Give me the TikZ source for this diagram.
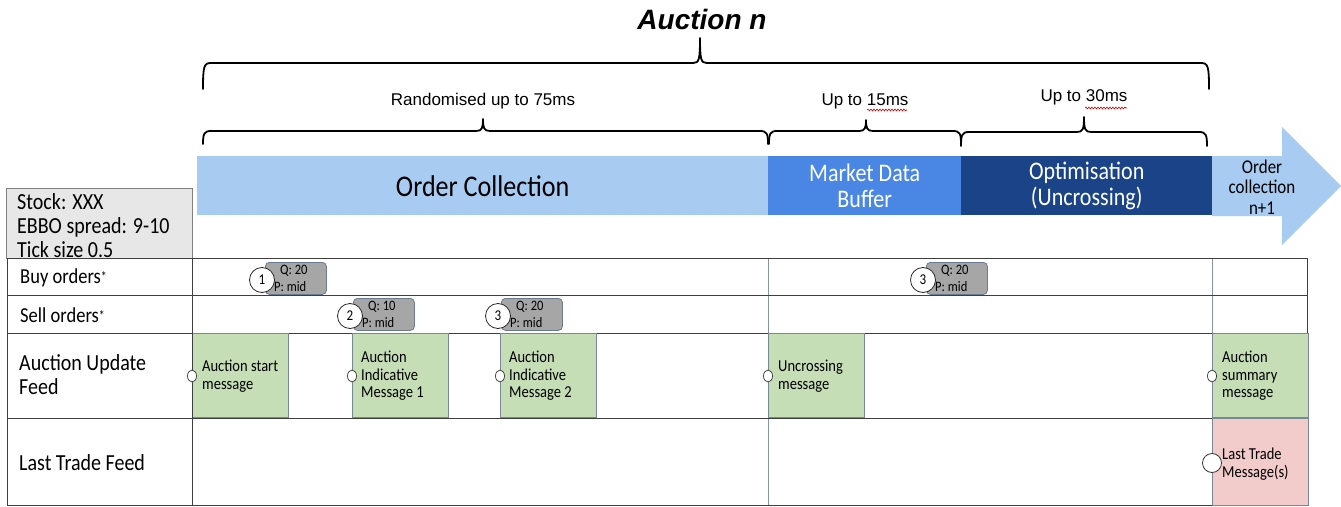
\documentclass[tikz,border=0pt]{standalone}
\usepackage{fontspec}
\setmainfont[FakeStretch=0.87]{Carlito}
\newfontfamily\arialfont{Liberation Sans}
\usetikzlibrary{shapes.geometric,decorations.pathmorphing}
\definecolor{lightblue}{HTML}{A8CBF2}
\definecolor{mdblue}{HTML}{4A86E3}
\definecolor{darkblue}{HTML}{1B4388}
\definecolor{msggreen}{HTML}{C5DEB5}
\definecolor{msgpink}{HTML}{F2CBCB}
\definecolor{tokgray}{HTML}{A6A6A6}
\definecolor{tokedge}{HTML}{6B7B8F}
\definecolor{infogray}{HTML}{E7E7E7}
\definecolor{gridv}{HTML}{8793A6}
\definecolor{gridh}{HTML}{3F3F3F}
\definecolor{boxedge}{HTML}{7A8796}
\tikzset{
  bracepath/.style={line width=1.8pt, black, line join=round, line cap=round},
  bracelabel/.style={font=\arialfont\fontsize{17}{20}\selectfont, inner sep=0},
  phase/.style={anchor=north west, inner sep=0, minimum height=59pt, align=center, font=\fontsize{25.3}{26}\selectfont},
  rowlabel/.style={anchor=west, inner sep=0, align=left, font=\fontsize{23}{24}\selectfont},
  msgbox/.style={anchor=north west, draw=boxedge, line width=0.8pt, fill=msggreen, minimum width=96pt, minimum height=84pt, inner sep=0},
  msgtext/.style={anchor=west, align=left, inner sep=0, font=\fontsize{16.7}{17.5}\selectfont},
  portmark/.style={ellipse, draw=black!80, fill=white, line width=0.7pt, minimum width=9pt, minimum height=12pt, inner sep=0},
  tokbox/.style={anchor=north west, draw=tokedge, line width=0.8pt, fill=tokgray, rounded corners=4pt, minimum width=61pt, minimum height=32pt, inner sep=0},
  toktext/.style={anchor=west, inner sep=0, font=\fontsize{14.4}{15}\selectfont},
  tokcircle/.style={circle, draw=black!85, fill=white, line width=0.8pt, minimum size=25pt, inner sep=0, font=\fontsize{15}{15}\selectfont},
  gridlineh/.style={draw=gridh, line width=1pt},
  gridlinev/.style={draw=gridv, line width=1pt},
  squiggle/.style={draw=red!80!black, line width=0.6pt, decorate, decoration={snake, amplitude=0.9pt, segment length=3pt}}
}
% #1 x1, #2 x2, #3 xm, #4 ytop, #5 yend, #6 ytip
\newcommand\drawbrace[6]{%
  \draw[bracepath] (#1,#5) .. controls (#1,#4+3) and (#1+1,#4) .. (#1+8,#4)
    -- (#3-7,#4) .. controls (#3-1,#4) and (#3,#4-3) .. (#3,#6)
    .. controls (#3,#4-3) and (#3+1,#4) .. (#3+7,#4)
    -- (#2-8,#4) .. controls (#2-1,#4) and (#2,#4+3) .. (#2,#5);}
% #1 name, #2 rx, #3 ry, #4 number, #5 Q
\newcommand\ordtoken[5]{%
  \node[tokbox] (#1) at (#2,#3) {};
  \node[tokcircle] (#1n) at (#2-3,#3+18) {#4};
  \node[toktext] (#1q) at (#2+15,#3+9) {Q: #5};
  \node[toktext] (#1p) at (#2+9,#3+25) {P: mid};}
\begin{document}
\begin{tikzpicture}[x=1pt,y=-1pt]
\useasboundingbox (0,0) rectangle (1341,506);
\fill[white] (0,0) rectangle (1341,506);

% title and braces
\node[font=\arialfont\bfseries\itshape\fontsize{28}{30}\selectfont, inner sep=0] (title) at (702,19) {Auction n};
\drawbrace{203}{1209}{700}{63}{89}{38}
\node[bracelabel] (l75) at (483,101) {Randomised up to 75ms};
\drawbrace{203}{768}{483}{131}{144}{119}
\node[bracelabel] (l15) at (865,101) {Up to 15ms};
\drawbrace{769}{961}{866}{131}{144}{120}
\node[bracelabel] (l30) at (1084,97) {Up to 30ms};
\drawbrace{961}{1207}{1084}{132}{146}{117}
\draw[squiggle] (867,110) -- (907,110);
\draw[squiggle] (1085,108) -- (1127,108);

% phase bar
\node[phase, fill=lightblue, minimum width=571pt, font=\fontsize{30}{30}\selectfont] (oc) at (197,156) {Order Collection};
\node[phase, fill=mdblue, text=white, minimum width=193pt] (mdb) at (768,156) {Market Data\\Buffer};
\node[phase, fill=darkblue, text=white, minimum width=251pt] (opt) at (961,156) {Optimisation\\(Uncrossing)};
\fill[lightblue] (1212,156) -- (1282,156) -- (1282,127) -- (1341,186) -- (1282,245) -- (1282,216) -- (1212,216) -- cycle;
\node[align=center, inner sep=0, font=\fontsize{19.5}{20.5}\selectfont] (next) at (1262,187) {Order\\collection\\n+1};

% info box
\node[anchor=north west, draw=gray, line width=0.8pt, fill=infogray, minimum width=186pt, minimum height=70pt, inner sep=0] (info) at (6,188) {};
\node[rowlabel] (infot) at (17,226) {Stock: XXX\\EBBO spread: 9-10\\Tick size 0.5};

% table grid
\draw[gridlinev] (768,258) -- (768,505);
\draw[gridlinev] (1212,258) -- (1212,505);
\draw[gridlineh] (7,258) -- (1307,258);
\draw[gridlineh] (7,295) -- (1307,295);
\draw[gridlineh] (7,333) -- (1307,333);
\draw[gridlineh] (7,418) -- (1307,418);
\draw[gridlineh] (7,505) -- (1307,505);
\draw[gridlineh] (7,258) -- (7,505);
\draw[gridlineh] (1307,258) -- (1307,505);

% row labels
\node[rowlabel, font=\fontsize{21.3}{22}\selectfont] (buy) at (20,278) {Buy orders\raisebox{2pt}{\fontsize{13.8}{14}\selectfont *}};
\node[rowlabel, font=\fontsize{21.3}{22}\selectfont] (sell) at (20,315) {Sell orders\raisebox{2pt}{\fontsize{13.8}{14}\selectfont *}};
\node[rowlabel] (auf) at (19,375) {Auction Update\\Feed};
\node[rowlabel] (ltf) at (19,463) {Last Trade Feed};

% messages
\node[msgbox] (m1) at (192,333) {};
\node[msgtext] (m1t) at (202,376) {Auction start\\message};
\node[msgbox] (m2) at (352,333) {};
\node[msgtext] (m2t) at (361,376) {Auction\\Indicative\\Message 1};
\node[msgbox] (m3) at (500,333) {};
\node[msgtext] (m3t) at (509,376) {Auction\\Indicative\\Message 2};
\node[msgbox] (m4) at (768,333) {};
\node[msgtext] (m4t) at (778,376) {Uncrossing\\message};
\node[msgbox] (m5) at (1212,333) {};
\node[msgtext] (m5t) at (1222,376) {Auction\\summary\\message};
\node[msgbox, fill=msgpink, minimum height=87pt] (m6) at (1212,418) {};
\node[msgtext] (m6t) at (1222,464) {Last Trade\\Message(s)};
\draw[gridlineh] (192,258) -- (192,505);
\node[portmark] (m1p) at (192,376) {};
\node[portmark] (m2p) at (352,376) {};
\node[portmark] (m3p) at (500,376) {};
\node[portmark] (m4p) at (768,376) {};
\node[portmark] (m5p) at (1212,376) {};
\node[circle, draw=black!80, fill=white, line width=0.8pt, minimum size=19pt, inner sep=0] (m6p) at (1212,463) {};

% order tokens
\ordtoken{b1}{265}{262}{1}{20}
\ordtoken{s2}{353}{298}{2}{10}
\ordtoken{s3}{501}{298}{3}{20}
\ordtoken{b3}{926}{262}{3}{20}
\end{tikzpicture}
\end{document}
